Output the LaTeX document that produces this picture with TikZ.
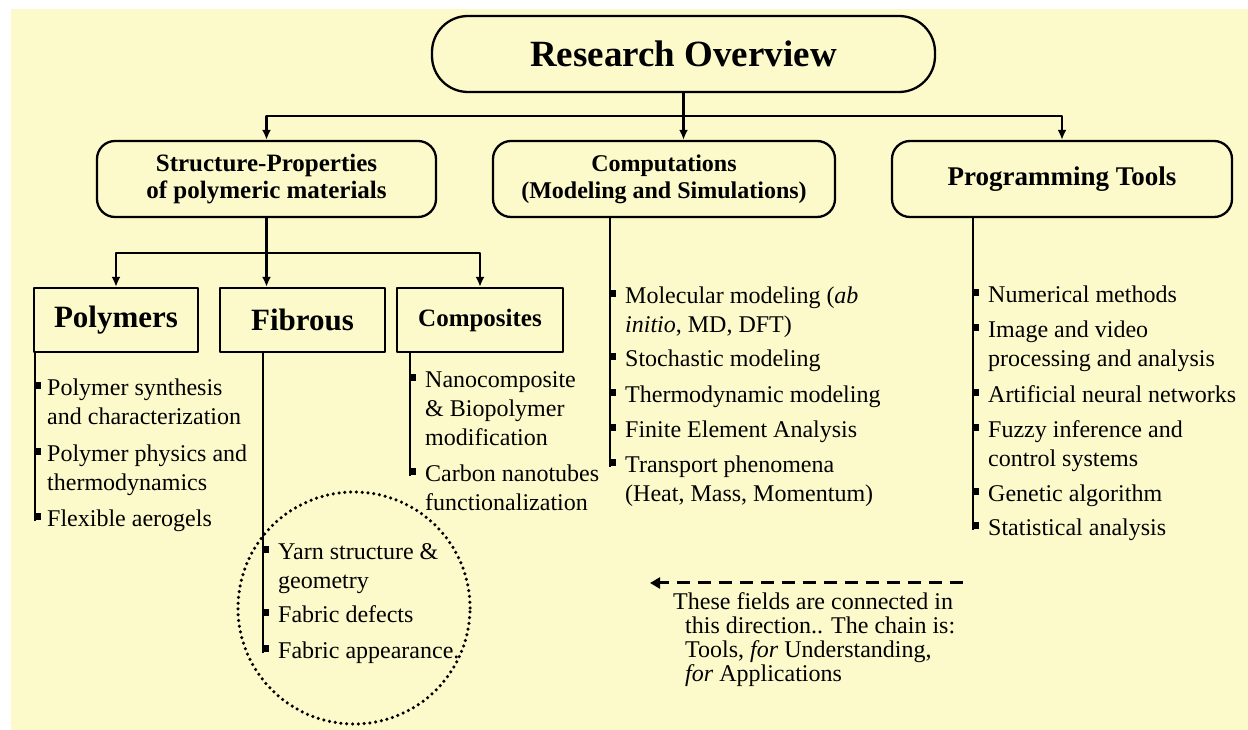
\documentclass[tikz,border=0pt]{standalone}
\usepackage{fontspec}
\setmainfont{Liberation Serif}
\usetikzlibrary{arrows.meta}
\definecolor{paper}{RGB}{252,250,202}
\newcommand{\itemfont}{\fontsize{24bp}{29bp}\selectfont}
\tikzset{
  link/.style={black,line width=2.3bp},
  pill/.style={draw,line width=2.3bp,rounded corners=18bp,align=center,inner sep=0},
  plainbox/.style={draw,line width=2.3bp,align=center,inner sep=0},
  item/.style={anchor=base west,align=left,inner sep=0,font=\itemfont},
  bul/.style={anchor=west,fill=black,minimum width=7bp,minimum height=7bp,inner sep=0},
}
\begin{document}
\begin{tikzpicture}[>={Latex[length=10bp,width=9bp]},line join=bevel,]
\useasboundingbox (0bp,0bp) rectangle (1248bp,730bp);
\fill [white] (0bp,0bp) rectangle (1248bp,730bp);
\fill [paper] (11bp,0bp) rectangle (1248bp,721bp);
%%
\node (node_overview) at (683.5bp,676bp) [pill,rounded corners=36bp,minimum width=503bp,minimum height=76bp,font=\fontsize{37bp}{44bp}\selectfont\bfseries] {Research Overview};
  \node (node_struct) at (266.5bp,551bp) [pill,minimum width=339bp,minimum height=76bp,font=\fontsize{25bp}{27bp}\selectfont\bfseries] {Structure-Properties\\of polymeric materials};
  \node (node_comp) at (664bp,551bp) [pill,minimum width=342bp,minimum height=76bp,font=\fontsize{24bp}{27bp}\selectfont\bfseries] {Computations\\(Modeling and Simulations)};
  \node (node_prog) at (1062bp,551bp) [pill,minimum width=340bp,minimum height=76bp,font=\fontsize{27bp}{30bp}\selectfont\bfseries] {Programming Tools};
  \node (node_poly) at (116bp,410bp) [plainbox,minimum width=164bp,minimum height=64bp,font=\fontsize{31bp}{34bp}\selectfont\bfseries] {Polymers};
  \node (node_fib) at (302.5bp,410bp) [plainbox,minimum width=165bp,minimum height=64bp,font=\fontsize{31bp}{34bp}\selectfont\bfseries] {Fibrous};
  \node (node_compo) at (480bp,410bp) [plainbox,minimum width=166bp,minimum height=64bp,font=\fontsize{25bp}{28bp}\selectfont\bfseries] {Composites};
  \coordinate (bar) at (683.5bp,614bp);
  \coordinate (split) at (266.5bp,477bp);
  \draw [link,->] (node_overview) -- (node_overview |- node_comp.north);
  \draw [link,->] (bar) -| (node_struct.north);
  \draw [link,->] (bar) -| (node_prog.north);
  \draw [link] (node_struct) -- (split);
  \draw [link,->] (split) -| (node_poly.north);
  \draw [link,->] (split) -- (split |- node_fib.north);
  \draw [link,->] (split) -| (node_compo.north);
%
  \node (bul_p1) at (34bp,344bp) [bul] {};
  \node (bul_p2) at (34bp,278bp) [bul] {};
  \node (bul_p3) at (34bp,213bp) [bul] {};
  \node (item_p1) at (47bp,305bp) [item] {Polymer synthesis\\and characterization};
  \node (item_p2) at (47bp,239bp) [item] {Polymer physics and\\thermodynamics};
  \node (item_p3) at (47bp,203bp) [item] {Flexible aerogels};
  \draw [link] ([xshift=1bp]bul_p1.west |- node_poly.south) -- ([xshift=1bp]bul_p3.south west);
%
  \node (bul_f1) at (262bp,180bp) [bul] {};
  \node (bul_f2) at (262bp,117bp) [bul] {};
  \node (bul_f3) at (262bp,81bp) [bul] {};
  \node (item_f1) at (278bp,141bp) [item] {Yarn structure \&\\geometry};
  \node (item_f2) at (278bp,107bp) [item] {Fabric defects};
  \node (item_f3) at (278bp,71bp) [item] {Fabric appearance.};
  \draw [link] ([xshift=1bp]bul_f1.west |- node_fib.south) -- ([xshift=1bp]bul_f3.south west);
  \draw [line width=3.5bp,dash pattern=on 0bp off 5.8bp,line cap=round] (354bp,122bp) circle (116bp);
%
  \node (bul_c1) at (409bp,352bp) [bul] {};
  \node (bul_c2) at (409bp,258bp) [bul] {};
  \node (item_c1) at (425bp,284bp) [item] {Nanocomposite\\\& Biopolymer\\modification};
  \node (item_c2) at (425bp,219bp) [item] {Carbon nanotubes\\functionalization};
  \draw [link] ([xshift=1bp]bul_c1.west |- node_compo.south) -- ([xshift=1bp]bul_c2.south west);
%
  \node (bul_m1) at (609bp,436bp) [bul] {};
  \node (bul_m2) at (609bp,373bp) [bul] {};
  \node (bul_m3) at (609bp,337bp) [bul] {};
  \node (bul_m4) at (609bp,302bp) [bul] {};
  \node (bul_m5) at (609bp,267bp) [bul] {};
  \node (item_m1) at (625bp,397bp) [item] {Molecular modeling (\textit{ab}\\\textit{initio}, MD, DFT)};
  \node (item_m2) at (625bp,363bp) [item] {Stochastic modeling};
  \node (item_m3) at (625bp,327bp) [item] {Thermodynamic modeling};
  \node (item_m4) at (625bp,292bp) [item] {Finite Element Analysis};
  \node (item_m5) at (625bp,228bp) [item] {Transport phenomena\\(Heat, Mass, Momentum)};
  \draw [link] ([xshift=1bp]bul_m1.west |- node_comp.south) -- ([xshift=1bp]bul_m5.south west);
%
  \node (bul_g1) at (972bp,437bp) [bul] {};
  \node (bul_g2) at (972bp,402bp) [bul] {};
  \node (bul_g3) at (972bp,337bp) [bul] {};
  \node (bul_g4) at (972bp,302bp) [bul] {};
  \node (bul_g5) at (972bp,238bp) [bul] {};
  \node (bul_g6) at (972bp,204bp) [bul] {};
  \node (item_g1) at (988bp,427bp) [item] {Numerical methods};
  \node (item_g2) at (988bp,363bp) [item] {Image and video\\processing and analysis};
  \node (item_g3) at (988bp,327bp) [item] {Artificial neural networks};
  \node (item_g4) at (988bp,263bp) [item] {Fuzzy inference and\\control systems};
  \node (item_g5) at (988bp,228bp) [item] {Genetic algorithm};
  \node (item_g6) at (988bp,194bp) [item] {Statistical analysis};
  \draw [link] ([xshift=1bp]bul_g1.west |- node_prog.south) -- ([xshift=1bp]bul_g6.south west);
%
  \coordinate (dir_r) at (963bp,147bp);
  \coordinate (dir_l) at (650bp,147bp);
  \draw [line width=3bp,dash pattern=on 13bp off 8bp,-{Triangle[length=10bp,width=11bp]}] (dir_r) -- (dir_l);
  \node (note) at (673bp,48bp) [item,font=\fontsize{24bp}{24bp}\selectfont] {These fields are connected in\\\hspace*{12bp}this direction.. The chain is:\\\hspace*{12bp}Tools, \textit{for} Understanding,\\\hspace*{12bp}\textit{for} Applications};
%
\end{tikzpicture}
\end{document}
